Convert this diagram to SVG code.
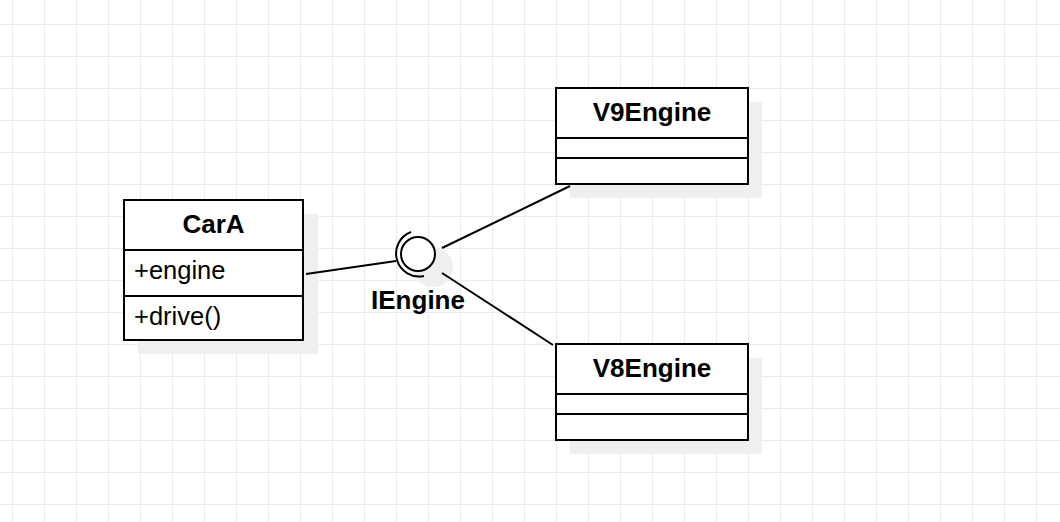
<svg xmlns="http://www.w3.org/2000/svg" width="1060" height="522" viewBox="0 0 1060 522">
<defs>
<pattern id="grid" x="12" y="24" width="32" height="32" patternUnits="userSpaceOnUse">
<path d="M0.5 0 V32 M0 0.5 H32" stroke="#ebebeb" stroke-width="1" fill="none"/>
</pattern>
<style>
.box{fill:#fff;stroke:#000;stroke-width:2}
.shadow{fill:#efefef;stroke:none}
.div{stroke:#000;stroke-width:2}
.title{font-family:"Liberation Sans",Arial,sans-serif;font-weight:bold;font-size:26px;text-anchor:middle;fill:#000}
.member{font-family:"Liberation Sans",Arial,sans-serif;font-size:25.5px;fill:#000}
.conn{stroke:#000;stroke-width:2;fill:none}
</style>
</defs>
<rect width="1060" height="522" fill="#fff"/>
<rect width="1060" height="522" fill="url(#grid)"/>

<g id="CarA">
<rect class="shadow" x="138" y="214" width="180" height="140"/>
<rect class="box" x="124" y="200" width="179" height="140"/>
<line class="div" x1="124" y1="250" x2="303" y2="250"/>
<line class="div" x1="124" y1="296" x2="303" y2="296"/>
<text class="title" x="213.5" y="233">CarA</text>
<text class="member" x="134" y="279">+engine</text>
<text class="member" x="134" y="325">+drive()</text>
</g>

<g id="V9Engine">
<rect class="shadow" x="570" y="102" width="192" height="96"/>
<rect class="box" x="556" y="88" width="192" height="96"/>
<line class="div" x1="556" y1="138" x2="748" y2="138"/>
<line class="div" x1="556" y1="158" x2="748" y2="158"/>
<text class="title" x="652" y="121">V9Engine</text>
</g>

<g id="V8Engine">
<rect class="shadow" x="570" y="358" width="192" height="96"/>
<rect class="box" x="556" y="344" width="192" height="96"/>
<line class="div" x1="556" y1="394" x2="748" y2="394"/>
<line class="div" x1="556" y1="414" x2="748" y2="414"/>
<text class="title" x="652" y="377">V8Engine</text>
</g>

<g id="IEngine">
<circle cx="433" cy="267" r="20" fill="#efefef"/>
<circle cx="418" cy="254" r="17" fill="#fff" stroke="#000" stroke-width="2"/>
<path d="M411 232 A23 23 0 0 0 424 276" fill="none" stroke="#000" stroke-width="2"/>
<text class="title" x="418" y="309">IEngine</text>
</g>

<g id="connectors">
<line class="conn" x1="306" y1="274" x2="396" y2="261"/>
<line class="conn" x1="442" y1="248" x2="570" y2="186"/>
<line class="conn" x1="442" y1="273" x2="553" y2="345"/>
</g>
</svg>
